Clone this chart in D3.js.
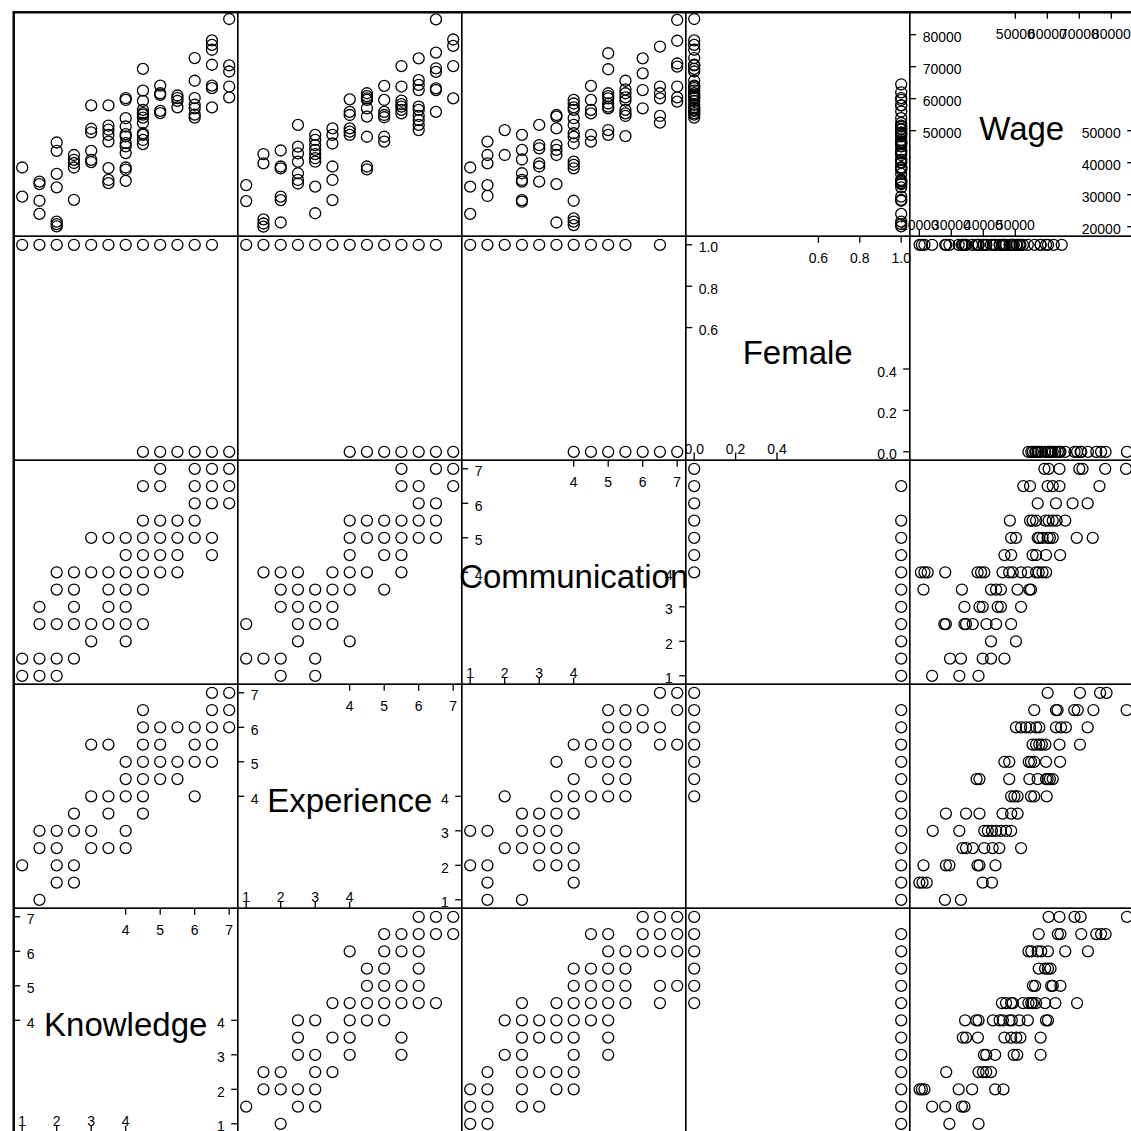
<!DOCTYPE html>
<html><head><meta charset="utf-8">
<script src="https://cdn.jsdelivr.net/npm/d3@7"></script>
<style>html,body{margin:0;padding:0;background:#fff;} svg{display:block;}</style>
</head><body><svg id="chart" width="1131" height="1131"></svg>
<script>
// ---------------- DATA ----------------
const columnVars = ["Knowledge", "Experience", "Communication", "Female", "Wage"];
const ratingTicksLow = [1, 2, 3, 4];
const ratingTicksHigh = [4, 5, 6, 7];
const femaleTicksLow = [0, 0.2, 0.4];
const femaleTicksHigh = [0.6, 0.8, 1.0];
const wageTicksLow = [20000, 30000, 40000, 50000];
const wageTicksHigh = [50000, 60000, 70000, 80000];

// Wage observed at each rating level
const wageByKnowledge = [
  [1, [38500, 29400]],
  [1.5, [34100, 33300, 28100, 24000]],
  [2, [46300, 43700, 36500, 32300, 21600, 20800, 20100]],
  [2.5, [42400, 40900, 39900, 38500, 28400]],
  [3, [57900, 50600, 49500, 43700, 40900, 40200]],
  [3.5, [57900, 51600, 50300, 48700, 46600, 38300, 34600, 33600]],
  [4, [60200, 59600, 53900, 51300, 48900, 48200, 46100, 45100, 43000, 38500, 37800, 34300]],
  [4.5, [69300, 62500, 59300, 56500, 55500, 55000, 54100, 52400, 49200, 48700, 47100, 45800]],
  [5, [64100, 61700, 61200, 56200, 55500]],
  [5.5, [61000, 60200, 59300, 57300]],
  [6, [72700, 65600, 60200, 58100, 57000, 55000, 54100]],
  [6.5, [78200, 76800, 75300, 70600, 64100, 63300, 57300]],
  [7, [84900, 70400, 68500, 63800, 60400]]
];
const wageByExperience = [
  [1, [33000, 28000]],
  [1.5, [42700, 39800, 22300, 21000, 20000]],
  [2, [43800, 38800, 38200, 29400, 28300, 21300]],
  [2.5, [51800, 45000, 42900, 40300, 36700, 34600, 33500]],
  [3, [48700, 47100, 45500, 44000, 42700, 41400, 40300, 32500, 24200]],
  [3.5, [50700, 48700, 46000, 38800, 34600, 28300]],
  [4, [59800, 55900, 54900, 50700, 49700, 48700]],
  [4.5, [61700, 60800, 60100, 59600, 57000, 54400, 48100, 38800, 37900]],
  [5, [64000, 59600, 55900, 54900, 54200, 48100, 46600]],
  [5.5, [70200, 63800, 59400, 58300, 57500, 56500, 55400]],
  [6, [72600, 65800, 64300, 62700, 57500, 56500, 54600, 53300, 51800, 50200]],
  [6.5, [84800, 74400, 69500, 68400, 63200, 62700, 55900]],
  [7, [78500, 76500, 70200, 60100]]
];
const wageByCommunication = [
  [1, [38500, 32500, 24000]],
  [1.5, [46600, 42400, 39800, 33000, 29600]],
  [2, [50200, 42400]],
  [2.5, [48700, 44000, 41000, 36700, 34600, 34100, 28300, 27800]],
  [3, [51800, 45500, 44500, 39800, 38800, 34100]],
  [3.5, [54900, 54400, 50700, 45500, 44000, 42400, 33300, 21300]],
  [4, [59600, 58500, 57300, 56500, 53900, 51800, 49200, 48100, 46000, 40300, 39300, 38200, 28100, 22600, 21600, 20500]],
  [4.5, [64000, 59600, 56500, 55400, 48700, 46600]],
  [5, [74200, 69200, 61700, 60800, 60100, 58500, 57500, 57000, 50200, 48700]],
  [5.5, [65600, 62900, 61700, 60400, 59400, 56500, 55400, 54600, 48300]],
  [6, [72600, 67900, 62700, 57000]],
  [6.5, [76300, 63800, 61700, 60100, 54600, 52500]],
  [7, [84600, 78100, 71000, 70000, 63800, 60400, 59100]]
];
// Knowledge values observed at each Communication level
const knowledgeByCommunication = [
  [7, [5, 6, 6.5, 7]],
  [6.5, [4.5, 5, 6, 6.5, 7]],
  [6, [6, 6.5, 7]],
  [5.5, [4.5, 5, 5.5, 6]],
  [5, [3, 3.5, 4, 4.5, 5, 5.5, 6, 6.5]],
  [4.5, [4, 4.5, 5, 5.5, 6.5]],
  [4, [2, 2.5, 3, 3.5, 4, 4.5, 5, 5.5]],
  [3.5, [2, 2.5, 3.5, 4, 4.5]],
  [3, [1.5, 2.5, 3.5, 4]],
  [2.5, [1.5, 2, 2.5, 3, 3.5, 4, 4.5]],
  [2, [3, 4]],
  [1.5, [1, 1.5, 2, 2.5]],
  [1, [1, 1.5, 2]]
];
// Experience values observed at each Communication level
const experienceByCommunication = [
  [7, [5.5, 6.5, 7]],
  [6.5, [5.5, 6, 7]],
  [6, [6, 6.5]],
  [5.5, [4, 4.5, 5, 5.5, 6, 6.5]],
  [5, [4, 4.5, 5, 5.5, 6, 6.5]],
  [4.5, [4, 5, 5.5]],
  [4, [1.5, 2, 2.5, 3.5, 4, 4.5, 5.5]],
  [3.5, [2, 2.5, 3, 3.5, 4, 5]],
  [3, [2, 2.5, 3, 3.5]],
  [2.5, [1, 2.5, 3, 3.5]],
  [2, [2.5, 4]],
  [1.5, [1, 1.5, 2, 3]],
  [1, [2, 3]]
];
// Knowledge values observed at each Experience level
const knowledgeByExperience = [
  [7, [6.5, 7]],
  [6.5, [4.5, 6.5, 7]],
  [6, [4.5, 5, 5.5, 6, 6.5, 7]],
  [5.5, [3, 3.5, 4.5, 5, 6, 6.5]],
  [5, [4, 4.5, 5, 5.5, 6, 6.5]],
  [4.5, [4, 4.5, 5, 5.5]],
  [4, [3, 3.5, 4, 4.5, 6]],
  [3.5, [2.5, 3.5, 4.5]],
  [3, [1.5, 2, 2.5, 3, 4]],
  [2.5, [1.5, 2, 3, 3.5, 4]],
  [2, [1, 2, 2.5]],
  [1.5, [2, 2.5]],
  [1, [1.5]]
];
// Rating levels observed among women (Female = 1) and men (Female = 0)
const knowledgeWomen = [1, 1.5, 2, 2.5, 3, 3.5, 4, 4.5, 5, 5.5, 6, 6.5];
const knowledgeMen = [4.5, 5, 5.5, 6, 6.5, 7];
const experienceWomen = [1, 1.5, 2, 2.5, 3, 3.5, 4, 4.5, 5, 5.5, 6, 6.5];
const experienceMen = [4, 4.5, 5, 5.5, 6, 6.5, 7];
const communicationWomen = [1, 1.5, 2, 2.5, 3, 3.5, 4, 4.5, 5, 5.5, 6.5];
const communicationMen = [4, 4.5, 5, 5.5, 6, 6.5, 7];
const wageWomen = [64500, 62000, 60200, 59600, 57900, 57900, 56000, 53900, 52400, 51600, 51300, 50600, 50300, 49500,
  49200, 48900, 48700, 48200, 47100, 46600, 46300, 46100, 45800, 45100, 43700, 43700, 43000, 42400, 40900, 40900,
  40200, 39900, 38500, 38500, 38300, 37800, 36500, 34600, 34300, 34100, 33600, 33300, 32300, 29400, 28400, 28100,
  24000, 21600, 20800, 20100];
const wageMen = [84900, 78200, 76800, 75300, 72700, 70600, 70400, 69300, 68500, 65600, 64100, 63800, 63300, 62500,
  61700, 61200, 61000, 60400, 60200, 59300, 58100, 57300, 57000, 56500, 56200, 55500, 55000, 54100];

// ---------------- BUILD PAIRS ----------------
function expand(grouped) { // [[level,[values]]] -> [[level,value]]
  const out = [];
  grouped.forEach(([lvl, vals]) => vals.forEach(v => out.push([lvl, v])));
  return out;
}
function binary(ones, zeros) {
  return ones.map(v => [v, 1]).concat(zeros.map(v => [v, 0]));
}
const pairs = [
  { a: "Knowledge", b: "Wage", pts: expand(wageByKnowledge) },
  { a: "Experience", b: "Wage", pts: expand(wageByExperience) },
  { a: "Communication", b: "Wage", pts: expand(wageByCommunication) },
  { a: "Communication", b: "Knowledge", pts: expand(knowledgeByCommunication) },
  { a: "Communication", b: "Experience", pts: expand(experienceByCommunication) },
  { a: "Experience", b: "Knowledge", pts: expand(knowledgeByExperience) },
  { a: "Knowledge", b: "Female", pts: binary(knowledgeWomen, knowledgeMen) },
  { a: "Experience", b: "Female", pts: binary(experienceWomen, experienceMen) },
  { a: "Communication", b: "Female", pts: binary(communicationWomen, communicationMen) },
  { a: "Wage", b: "Female", pts: binary(wageWomen, wageMen) }
];
function cellPoints(rowVar, colVar) {
  for (const p of pairs) {
    if (p.a === colVar && p.b === rowVar) return p.pts.map(d => ({ x: d[0], y: d[1] }));
    if (p.a === rowVar && p.b === colVar) return p.pts.map(d => ({ x: d[1], y: d[0] }));
  }
  return [];
}

// ---------------- LAYOUT ----------------
const X0 = 13.7, Y0 = 12.3, CELL = 224, PAD = 8.5;
const N = columnVars.length;
const rowVars = columnVars.slice().reverse();
const domains = { Knowledge: [1, 7], Experience: [1, 7], Communication: [1, 7], Female: [0, 1], Wage: [19650, 84340] };
const ticks = {
  Knowledge: [ratingTicksLow, ratingTicksHigh], Experience: [ratingTicksLow, ratingTicksHigh],
  Communication: [ratingTicksLow, ratingTicksHigh], Female: [femaleTicksLow, femaleTicksHigh],
  Wage: [wageTicksLow, wageTicksHigh]
};
const fmt = { Knowledge: d3.format("d"), Experience: d3.format("d"), Communication: d3.format("d"), Female: d3.format(".1f"), Wage: d3.format("d") };
const xScales = columnVars.map((v, j) => d3.scaleLinear().domain(domains[v]).range([X0 + CELL * j + PAD, X0 + CELL * (j + 1) - PAD]));
const yScales = rowVars.map((v, i) => d3.scaleLinear().domain(domains[v]).range([Y0 + CELL * (i + 1) - PAD, Y0 + CELL * i + PAD]));

const svg = d3.select("#chart");
const FONT = "'Liberation Sans', Arial, Helvetica, sans-serif";

// frames
for (let i = 0; i < N; i++) for (let j = 0; j < N; j++) {
  svg.append("rect").attr("x", X0 + CELL * j).attr("y", Y0 + CELL * i)
    .attr("width", CELL).attr("height", CELL)
    .attr("fill", "none").attr("stroke", "#000").attr("stroke-width", 1.4);
}
svg.append("rect").attr("x", X0).attr("y", Y0).attr("width", CELL * N).attr("height", CELL * N)
  .attr("fill", "none").attr("stroke", "#000").attr("stroke-width", 2.4);

// diagonal cells: names and axes
columnVars.forEach((v, j) => {
  const i = N - 1 - j;
  const left = X0 + CELL * j, right = left + CELL, top = Y0 + CELL * i, bottom = top + CELL;
  const xs = xScales[j], ys = yScales[i];
  const [low, high] = ticks[v];
  const g = svg.append("g").attr("font-family", FONT).attr("font-size", 14).attr("fill", "#000");
  const TL = 6.5;
  // top axis (high ticks)
  high.forEach(t => {
    g.append("line").attr("x1", xs(t)).attr("x2", xs(t)).attr("y1", top).attr("y2", top + TL).attr("stroke", "#000").attr("stroke-width", 1.3);
    g.append("text").attr("x", xs(t)).attr("y", top + 27).attr("text-anchor", "middle").text(fmt[v](t));
  });
  // bottom axis (low ticks)
  low.forEach(t => {
    g.append("line").attr("x1", xs(t)).attr("x2", xs(t)).attr("y1", bottom - TL).attr("y2", bottom).attr("stroke", "#000").attr("stroke-width", 1.3);
    g.append("text").attr("x", xs(t)).attr("y", bottom - 6.5).attr("text-anchor", "middle").text(fmt[v](t));
  });
  // left axis (high ticks)
  high.forEach(t => {
    g.append("line").attr("x1", left).attr("x2", left + TL).attr("y1", ys(t)).attr("y2", ys(t)).attr("stroke", "#000").attr("stroke-width", 1.3);
    g.append("text").attr("x", left + 13).attr("y", ys(t) + 7.5).attr("text-anchor", "start").text(fmt[v](t));
  });
  // right axis (low ticks)
  low.forEach(t => {
    g.append("line").attr("x1", right - TL).attr("x2", right).attr("y1", ys(t)).attr("y2", ys(t)).attr("stroke", "#000").attr("stroke-width", 1.3);
    g.append("text").attr("x", right - 13).attr("y", ys(t) + 7.5).attr("text-anchor", "end").text(fmt[v](t));
  });
  svg.append("text").attr("x", (left + right) / 2).attr("y", (top + bottom) / 2 + 16)
    .attr("text-anchor", "middle").attr("font-family", FONT).attr("font-size", 33).attr("fill", "#000").text(v);
});

// scatter cells
for (let i = 0; i < N; i++) for (let j = 0; j < N; j++) {
  if (i === N - 1 - j) continue;
  const pts = cellPoints(rowVars[i], columnVars[j]);
  svg.append("g").selectAll("circle").data(pts).join("circle")
    .attr("cx", d => xScales[j](d.x)).attr("cy", d => yScales[i](d.y))
    .attr("r", 5.5).attr("fill", "none").attr("stroke", "#000").attr("stroke-width", 1.3);
}
</script></body></html>
